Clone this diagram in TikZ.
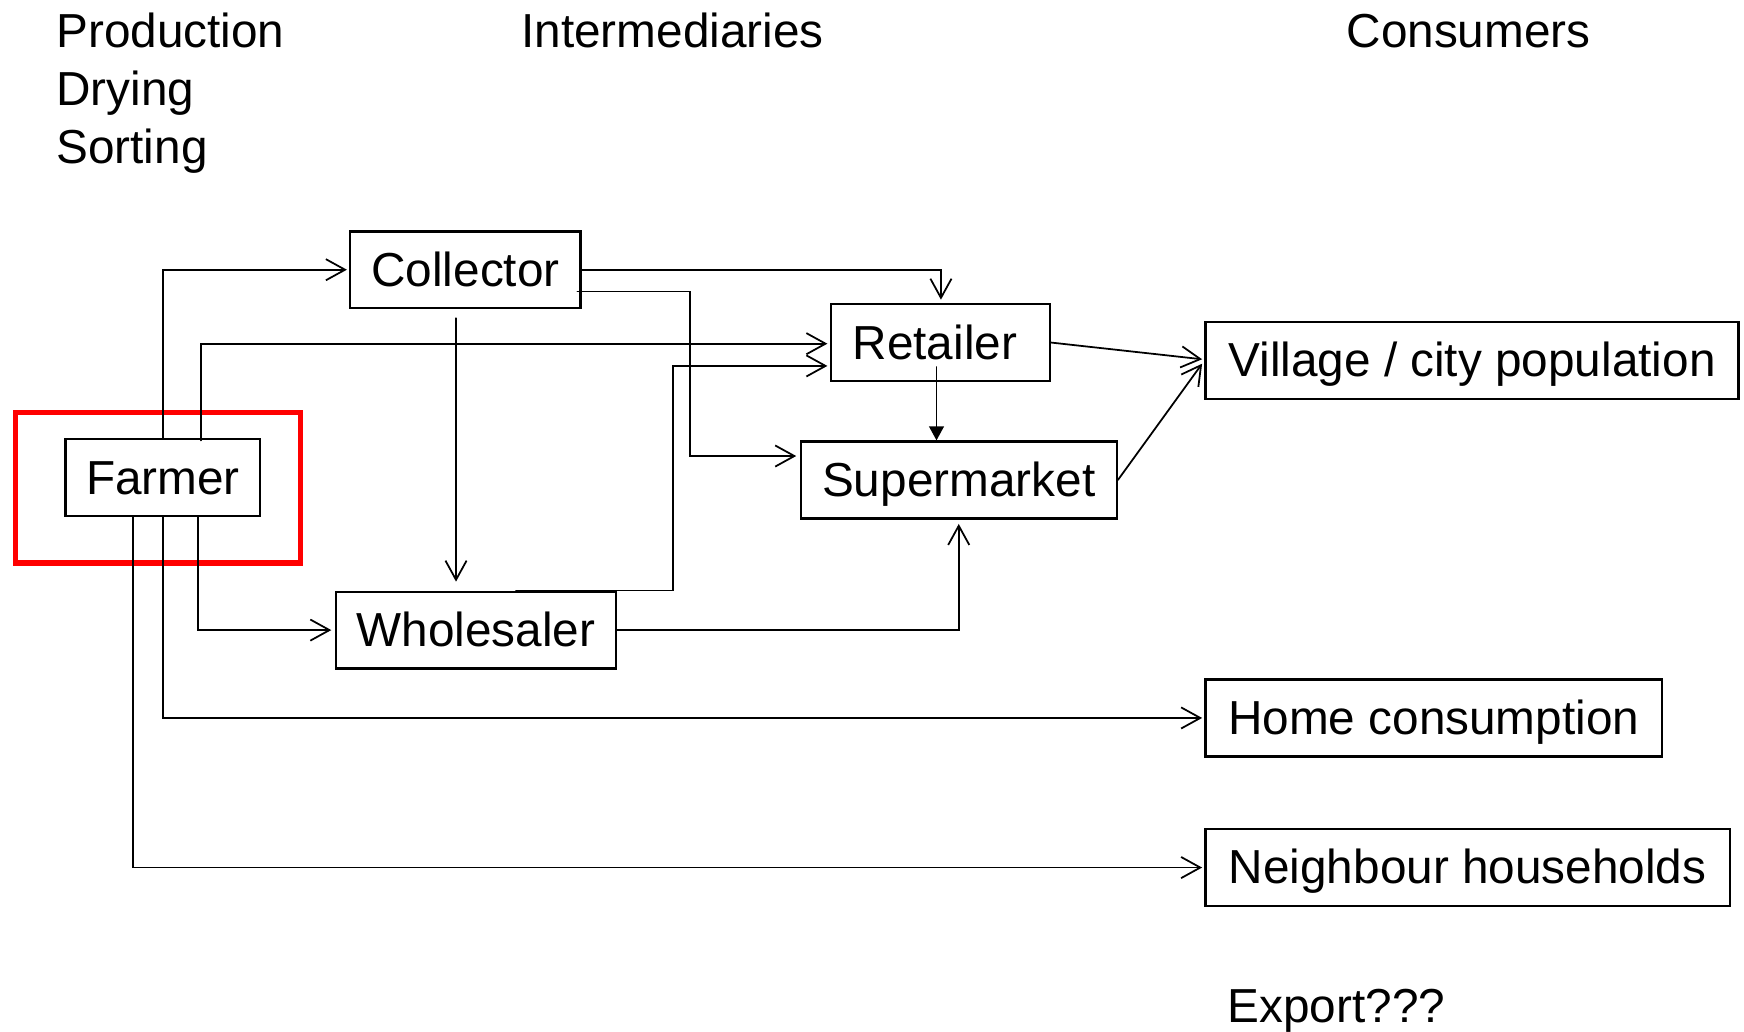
\documentclass[tikz,border=0pt]{standalone}
\usepackage{fontspec}
\setmainfont{Liberation Sans}
\usetikzlibrary{arrows.meta, calc}

\newcommand{\chainfont}{\fontsize{12.2}{14.8}\selectfont}

\begin{document}
\begin{tikzpicture}[%
        x = 0.01cm,
        y = -0.01cm,
        line cap = round,
        > = {Straight Barb[length=4.9pt, width=5.4pt]},
        actor/.style = {%
            draw, line width = 0.6pt, inner sep = 0pt,
            minimum height = 0.69cm, text height = 0.84em, text depth = 0pt,
            font = \chainfont
        },
        flow/.style = {draw, line width = 0.45pt, ->},
        heading/.style = {inner sep = 0pt, anchor = base west, font = \chainfont}
    ]

        % Fix the size of the page.
        \useasboundingbox (0, 0) rectangle (1568, 927);

        % Column headings.
        \node[heading, anchor = north west, align = left] (steps) at (50, 11)
            {Production\\Drying\\Sorting};
        \node[heading] (middle) at (468, 43) {Intermediaries};
        \node[heading] (buyers) at (1210, 43) {Consumers};

        % Boxes of the chain.
        \node[actor, minimum width = 1.75cm] (farmer) at (146.5, 429.5) {Farmer};
        \node[actor, minimum width = 2.07cm] (collector) at (418.5, 242.5) {Collector};
        \node[actor, minimum width = 2.52cm] (wholesaler) at (428, 566.5) {Wholesaler};
        \node[actor, minimum width = 1.97cm] (retailer) at (845.5, 308) {Retailer\hspace*{2.8pt}};
        \node[actor, minimum width = 2.84cm] (supermarket) at (862, 431.5) {Supermarket};
        \node[actor, minimum width = 4.79cm] (village) at (1323.5, 324) {Village / city population};
        \node[actor, minimum width = 4.10cm] (home) at (1289, 645.5) {Home consumption};
        \node[actor, minimum width = 4.71cm] (neighbour) at (1319.5, 780) {Neighbour households};
        \node[heading] (export) at (1103, 919) {Export???};

        % Red frame round the farmer.
        \draw[red, line width = 1.45pt]
            ($(farmer.north west) + (-44, -23)$) rectangle ($(farmer.south east) + (35, 41)$);

        % Flows out of the farm.
        \draw[flow] (farmer.north) |- ($(collector.west) + (-2, 0)$);
        \draw[flow] ($(farmer.north) + (34.5, 2)$) |- ($(retailer.west) + (-2, 1)$);
        \draw[flow] ($(farmer.south) + (31.5, 0)$) |- ($(wholesaler.west) + (-3, 0)$);
        \draw[flow] (farmer.south) |- ($(home.west) + (-2, 0)$);
        \draw[flow] ($(farmer.south) + (-27, 0)$) |- ($(neighbour.west) + (-2, 0)$);

        % Flows out of the collector.
        \draw[flow] (collector.east) -| ($(retailer.north) + (0.5, -3)$);
        \draw[flow] ($(collector.east) + (-4, 19.5)$) -- ++(101, 0)
            |- ($(supermarket.west) + (-3, -21.5)$);
        \draw[flow] ($(collector.south) + (-8.5, 8)$) coordinate (cw)
            -- ($(cw |- wholesaler.north) + (0, -8)$);

        % Flows out of the wholesaler.
        \draw[flow] ($(wholesaler.north) + (36, 0)$) -- ++(141, 0)
            |- ($(retailer.west) + (-2, 21)$);
        \draw[flow] (wholesaler.east) -| ($(supermarket.south) + (0, 4)$);

        % Retailer and supermarket.
        \draw[line width = 0.45pt, -{Triangle[length=3.6pt, width=3.8pt]}]
            ($(retailer.center) + (-3.5, 22)$) coordinate (rs) -- (rs |- supermarket.north);
        \draw[flow] (retailer.east) -- ($(village.west) + (-2, -1)$);
        \draw[flow] (supermarket.east) -- ($(village.west) + (-2, 3)$);
    \end{tikzpicture}
\end{document}
